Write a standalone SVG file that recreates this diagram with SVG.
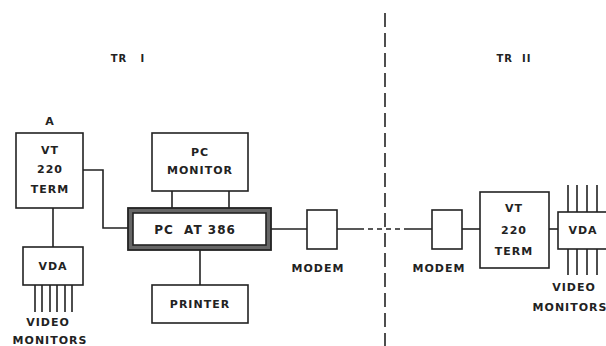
<svg xmlns="http://www.w3.org/2000/svg" width="606" height="346" viewBox="0 0 606 346">
<style>
.b{fill:#fff;stroke:#222;stroke-width:1.6}
.l{fill:none;stroke:#222;stroke-width:1.6}
text{font-family:"DejaVu Sans","Liberation Sans",sans-serif;font-weight:bold;font-size:11px;fill:#222;text-anchor:middle;letter-spacing:1px}
.s{font-size:10px;white-space:pre}
</style>
<rect width="606" height="346" fill="#fff"/>
<text class="s" x="128" y="62">TR   I</text>
<text class="s" x="514" y="62">TR  II</text>
<g id="divider"><path class="l" d="M385,13 V346" stroke-dasharray="14 6"/></g>
<g id="connectors">
<path class="l" d="M83,170 H103 V228 H128"/>
<path class="l" d="M53,208 V247"/>
<path class="l" d="M35,285 V312 M42,285 V312 M50,285 V312 M57,285 V312 M65,285 V312 M72,285 V312"/>
<path class="l" d="M172,191 V208 M229,191 V208"/>
<path class="l" d="M200,250 V285"/>
<path class="l" d="M271,229 H307"/>
<path class="l" d="M337,229 H359 M408,229 H432"/>
<path class="l" d="M359,229 H408" stroke-dasharray="5 4"/>
<path class="l" d="M462,229 H480"/>
<path class="l" d="M549,229 H558"/>
<path class="l" d="M568,185 V212 M577,185 V212 M587,185 V212 M597,185 V212"/>
<path class="l" d="M568,249 V275 M577,249 V275 M587,249 V275 M597,249 V275"/>
</g>
<g id="vt1">
<text x="50" y="125">A</text>
<rect class="b" x="16" y="133" width="67" height="75"/>
<text x="50" y="154">VT</text>
<text x="50" y="173">220</text>
<text x="50" y="193">TERM</text>
</g>
<g id="vda1">
<rect class="b" x="23" y="247" width="60" height="38"/>
<text x="53" y="270">VDA</text>
<text x="48" y="326">VIDEO</text>
<text x="50" y="344">MONITORS</text>
</g>
<g id="pcmonitor">
<rect class="b" x="152" y="133" width="96" height="58"/>
<text x="200" y="156">PC</text>
<text x="200" y="174">MONITOR</text>
</g>
<g id="pcat">
<rect x="128" y="208" width="143" height="42" fill="#666" stroke="#222" stroke-width="1.8"/>
<rect class="b" x="133" y="213" width="133" height="32"/>
<text x="195" y="234" style="white-space:pre;font-size:12px">PC  AT 386</text>
</g>
<g id="printer">
<rect class="b" x="152" y="285" width="96" height="38"/>
<text x="200" y="308">PRINTER</text>
</g>
<g id="modem1">
<rect class="b" x="307" y="210" width="30" height="39"/>
<text x="318" y="272">MODEM</text>
</g>
<g id="modem2">
<rect class="b" x="432" y="210" width="30" height="39"/>
<text x="439" y="272">MODEM</text>
</g>
<g id="vt2">
<rect class="b" x="480" y="192" width="69" height="76"/>
<text x="514" y="212">VT</text>
<text x="514" y="234">220</text>
<text x="514" y="255">TERM</text>
</g>
<g id="vda2">
<rect class="b" x="558" y="212" width="50" height="37"/>
<text x="583" y="234">VDA</text>
<text x="574" y="291">VIDEO</text>
<text x="570" y="311">MONITORS</text>
</g>
</svg>
